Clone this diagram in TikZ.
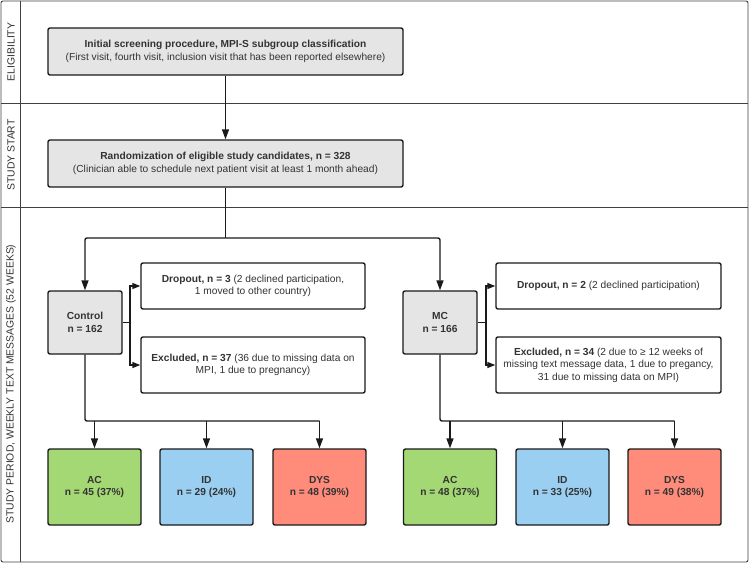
\documentclass[tikz,border=0pt]{standalone}
\usepackage{fontspec}
\setmainfont{Liberation Sans}
\usetikzlibrary{arrows.meta}
\definecolor{boxgrey}{HTML}{E5E5E5}
\definecolor{acgreen}{HTML}{A4D874}
\definecolor{idblue}{HTML}{9ACFF1}
\definecolor{dysred}{HTML}{FF8B7B}
\definecolor{ink}{HTML}{1A1A1A}
\definecolor{txt}{HTML}{333333}
\begin{document}
\begin{tikzpicture}[x=1pt,y=-1pt,
  font=\fontsize{10.2}{12.5}\selectfont,
  box/.style={draw=ink, line width=1.4pt, rounded corners=2pt, align=center, inner sep=2pt, text=txt},
  greybox/.style={box, fill=boxgrey},
  lane/.style={rotate=90, font=\fontsize{10.4}{12}\selectfont, text=txt},
  conn/.style={draw=ink, line width=1.4pt, rounded corners=2pt},
  arr/.style={conn, -{Triangle[length=10pt,width=7pt]}},
  brk/.style={draw=ink, line width=1.4pt, -{Triangle[length=8pt,width=6pt]}},
  frame/.style={draw=black!75, line width=0.9pt}]
\useasboundingbox (0,0) rectangle (750,563);
% frame and lanes
\draw[frame, rounded corners=2pt] (1,1) rectangle (748,562);
\draw[frame] (20,1) -- (20,562);
\draw[frame] (1,103) -- (748,103);
\draw[frame] (1,207) -- (748,207);
\node[lane] (l1) at (11,52) {ELIGIBILITY};
\node[lane] (l2) at (11,155) {STUDY START};
\node[lane] (l3) at (11,384) {STUDY PERIOD, WEEKLY TEXT MESSAGES (52 WEEKS)};
% top boxes
\node[greybox, minimum width=355pt, minimum height=47pt] (screen) at (225.5,51.5)
  {\textbf{Initial screening procedure, MPI-S subgroup classification}\\(First visit, fourth visit, inclusion visit that has been reported elsewhere)};
\node[greybox, minimum width=355pt, minimum height=47pt] (rand) at (225.5,163.5)
  {\textbf{Randomization of eligible study candidates, n = 328}\\(Clinician able to schedule next patient visit at least 1 month ahead)};
% arms
\node[greybox, minimum width=74pt, minimum height=63pt] (ctrl) at (85,322.5) {\textbf{Control}\\\textbf{n = 162}};
\node[greybox, minimum width=74pt, minimum height=63pt] (mc) at (440,322.5) {\textbf{MC}\\\textbf{n = 166}};
\node[box, fill=white, minimum width=224pt, minimum height=46pt] (dropc) at (253,286)
  {\textbf{Dropout, n = 3} (2 declined participation,\\1 moved to other country)};
\node[box, fill=white, minimum width=224pt, minimum height=56pt] (exclc) at (253,365)
  {\textbf{Excluded, n = 37} (36 due to missing data on\\MPI, 1 due to pregnancy)};
\node[box, fill=white, minimum width=225pt, minimum height=46pt] (dropm) at (608.5,286)
  {\textbf{Dropout, n = 2} (2 declined participation)};
\node[box, fill=white, minimum width=225pt, minimum height=56pt] (exclm) at (608.5,365)
  {\textbf{Excluded, n = 34} (2 due to ≥ 12 weeks of\\missing text message data, 1 due to pregancy,\\31 due to missing data on MPI)};
% subgroup boxes
\tikzset{sub/.style={box, minimum width=93pt, minimum height=76pt}}
\node[sub, fill=acgreen] (ac1) at (94.5,487) {\textbf{AC}\\\textbf{n = 45 (37\%)}};
\node[sub, fill=idblue] (id1) at (206.5,487) {\textbf{ID}\\\textbf{n = 29 (24\%)}};
\node[sub, fill=dysred] (dys1) at (319.5,487) {\textbf{DYS}\\\textbf{n = 48 (39\%)}};
\node[sub, fill=acgreen] (ac2) at (450,487) {\textbf{AC}\\\textbf{n = 48 (37\%)}};
\node[sub, fill=idblue] (id2) at (562.5,487) {\textbf{ID}\\\textbf{n = 33 (25\%)}};
\node[sub, fill=dysred] (dys2) at (674.5,487) {\textbf{DYS}\\\textbf{n = 49 (38\%)}};
% connectors
\coordinate (split) at (225.5,238);
\coordinate (cbr) at (130,322.5);
\coordinate (mbr) at (486,322.5);
\coordinate (cj) at (85,421);
\coordinate (mj) at (440,421);
\draw[arr] (screen.south) -- (rand.north);
\draw[conn] (rand.south) -- (split);
\draw[arr] (split) -| (ctrl.north);
\draw[arr] (split) -| (mc.north);
\draw[conn] (ctrl.east) -- (cbr);
\draw[brk] (cbr) |- (dropc.west);
\draw[brk] (cbr) |- (exclc.west);
\draw[conn] (mc.east) -- (mbr);
\draw[brk] (mbr) |- (dropm.west);
\draw[brk] (mbr) |- (exclm.west);
\draw[conn] (ctrl.south) -- (cj) -- (dys1.north |- cj);
\draw[arr] (ac1.north |- cj) -- (ac1.north);
\draw[arr] (id1.north |- cj) -- (id1.north);
\draw[arr] (dys1.north |- cj) -- (dys1.north);
\draw[conn] (mc.south) -- (mj) -- (dys2.north |- mj);
\draw[arr] (ac2.north |- mj) -- (ac2.north);
\draw[arr] (id2.north |- mj) -- (id2.north);
\draw[arr] (dys2.north |- mj) -- (dys2.north);
\end{tikzpicture}
\end{document}
